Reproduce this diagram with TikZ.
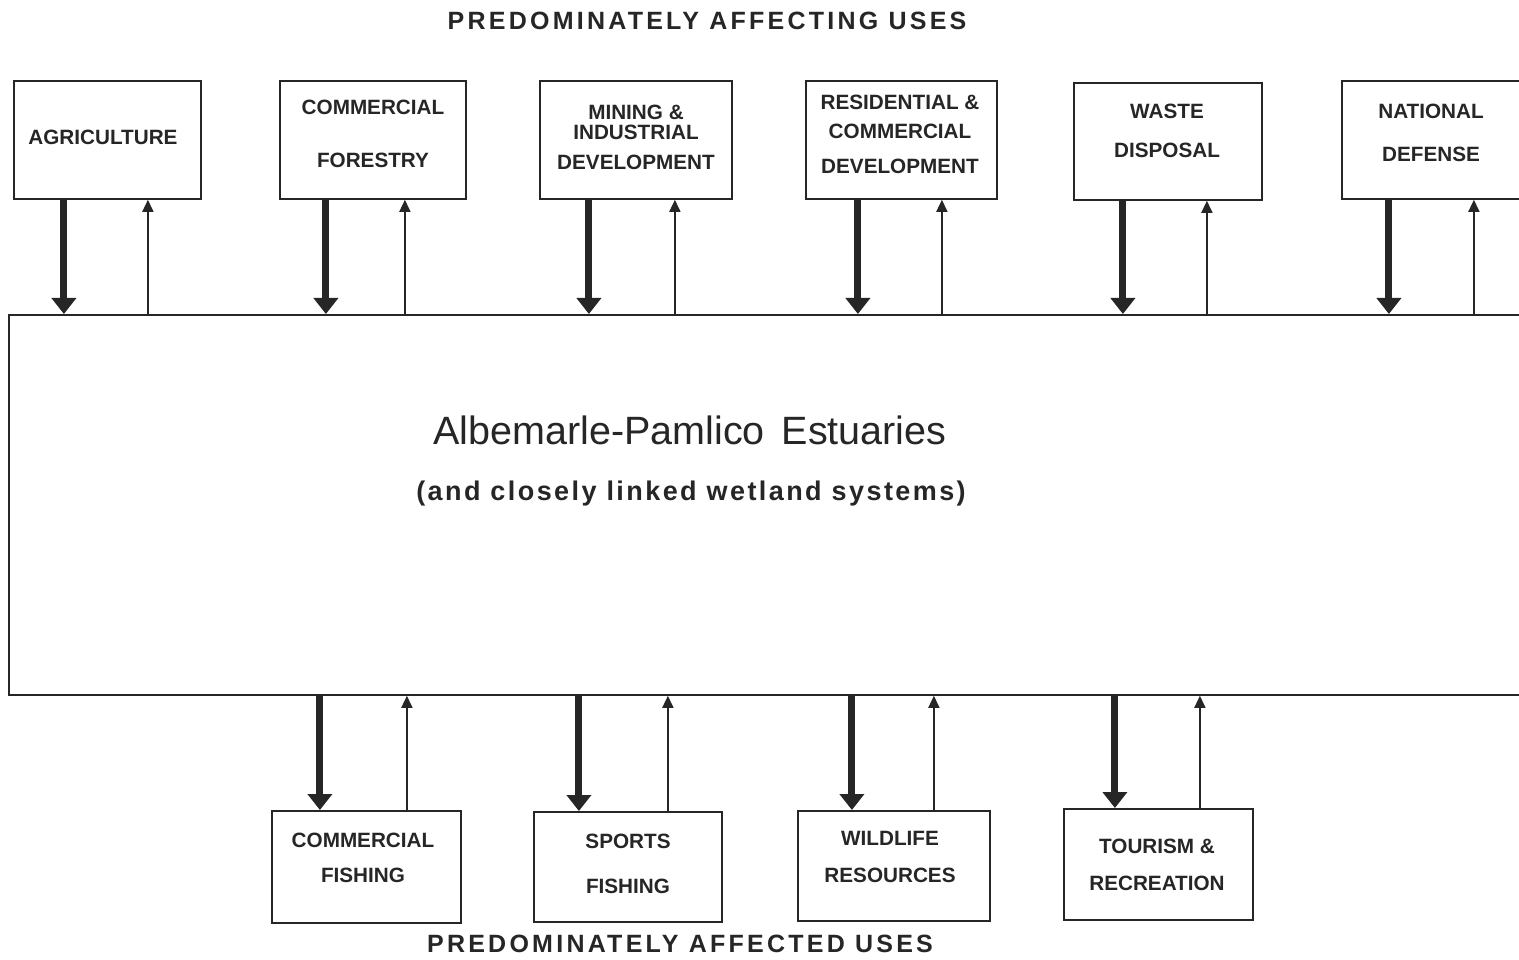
\documentclass[tikz,border=0pt]{standalone}
\usepackage{fontspec}
\setmainfont{Liberation Sans}
\newfontfamily\titlefont{Liberation Sans}[LetterSpace=13]
\newfontfamily\subfont{Liberation Sans}[LetterSpace=9]
\usetikzlibrary{arrows.meta}
\definecolor{ink}{RGB}{38,38,38}
\begin{document}
\begin{tikzpicture}[x=1pt,y=-1pt,
  usebox/.style={draw=ink, line width=1.8pt, inner sep=0pt},
  lbl/.style={font=\fontsize{20.7}{22}\selectfont\bfseries, text=ink, align=center, inner sep=0pt},
  ttl/.style={font=\titlefont\fontsize{25}{28}\selectfont\bfseries, text=ink, inner sep=0pt},
  big/.style={draw=ink, line width=7pt, -{Triangle[width=24pt,length=16pt]}},
  small/.style={draw=ink, line width=1.6pt, -{Triangle[width=11pt,length=12pt]}}]
\fill[white] (0,0) rectangle (1519,960);
\useasboundingbox (0,0) rectangle (1519,960);
\clip (0,0) rectangle (1519,960);

% titles
\node[ttl] (toptitle) at (707,21) {PREDOMINATELY AFFECTING USES};
\node[ttl] (bottitle) at (680,944) {PREDOMINATELY AFFECTED USES};

% central system
\node[usebox, anchor=north west, minimum width=1540pt, minimum height=380pt] (main) at (8,314) {};
\node[font=\fontsize{39.5}{44}\selectfont, text=ink, inner sep=0pt] (maintitle) at (690,430) {Albemarle-Pamlico\hspace{17pt}Estuaries};
\node[font=\subfont\fontsize{27}{30}\selectfont\bfseries, text=ink, inner sep=0pt] (subtitle) at (691,494) {(and closely linked wetland systems)};

% top boxes
\node[usebox, anchor=north west, minimum width=187pt, minimum height=118pt] (agri) at (13,80) {};
\node[usebox, anchor=north west, minimum width=186pt, minimum height=118pt] (forest) at (279,80) {};
\node[usebox, anchor=north west, minimum width=192pt, minimum height=118pt] (mining) at (539,80) {};
\node[usebox, anchor=north west, minimum width=191pt, minimum height=118pt] (resid) at (805,80) {};
\node[usebox, anchor=north west, minimum width=188pt, minimum height=117pt] (waste) at (1073,82) {};
\node[usebox, anchor=north west, minimum width=190pt, minimum height=118pt] (defense) at (1341,80) {};

\node[lbl] (agrit) at (103,137) {AGRICULTURE};
\node[lbl] (forestt) at (373,133.5) {COMMERCIAL\\[31pt]FORESTRY};
\node[lbl] (miningt) at (636,137) {MINING \&\\[-2pt]INDUSTRIAL\\[8pt]DEVELOPMENT};
\node[lbl] (residt) at (900,134) {RESIDENTIAL \&\\[7pt]COMMERCIAL\\[13pt]DEVELOPMENT};
\node[lbl] (wastet) at (1167,130.5) {WASTE\\[17pt]DISPOSAL};
\node[lbl] (defenset) at (1431,132.5) {NATIONAL\\[21pt]DEFENSE};

% bottom boxes
\node[usebox, anchor=north west, minimum width=189pt, minimum height=112pt] (cfish) at (271,810) {};
\node[usebox, anchor=north west, minimum width=188pt, minimum height=110pt] (sfish) at (533,811) {};
\node[usebox, anchor=north west, minimum width=192pt, minimum height=110pt] (wild) at (797,810) {};
\node[usebox, anchor=north west, minimum width=189pt, minimum height=111pt] (tour) at (1063,808) {};

\node[lbl] (cfisht) at (363,857.5) {COMMERCIAL\\[13pt]FISHING};
\node[lbl] (sfisht) at (628,863.5) {SPORTS\\[23pt]FISHING};
\node[lbl] (wildt) at (890,856.5) {WILDLIFE\\[15pt]RESOURCES};
\node[lbl] (tourt) at (1157,864.5) {TOURISM \&\\[15pt]RECREATION};

% top arrows
\foreach \n/\dl/\dr in {agri/-43.5/40.5, forest/-47/32, mining/-47/39, resid/-43.5/40.5, waste/-45/39, defense/-48/37}{
  \draw[big] ([xshift=\dl pt]\n.south) -- ([xshift=\dl pt]\n.south |- main.north);
  \draw[small] ([xshift=\dr pt]\n.south |- main.north) -- ([xshift=\dr pt]\n.south);
}
% bottom arrows
\foreach \n/\dl/\dr in {cfish/-46.5/40.5, sfish/-49/40, wild/-42/40, tour/-43.5/41.5}{
  \draw[big] ([xshift=\dl pt]\n.north |- main.south) -- ([xshift=\dl pt]\n.north);
  \draw[small] ([xshift=\dr pt]\n.north) -- ([xshift=\dr pt]\n.north |- main.south);
}
\end{tikzpicture}
\end{document}
